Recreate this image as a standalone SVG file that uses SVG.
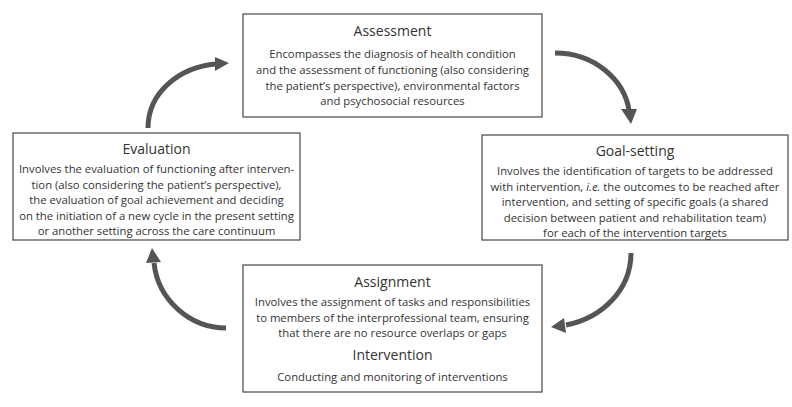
<svg xmlns="http://www.w3.org/2000/svg" width="792" height="407" viewBox="0 0 792 407">
<style>
.box{fill:#fff;stroke:#555;stroke-width:1.3}
.t{font-family:"Open Sans","Liberation Sans",sans-serif;fill:#333;text-anchor:middle}
.h{font-size:14px}
.b{font-size:11.3px}
.arc{fill:none;stroke:#555;stroke-width:5}
.head{fill:#555}
</style>
<rect width="792" height="407" fill="#fff"/>
<g id="assessment">
<rect class="box" x="243" y="14" width="299" height="103"/>
<text class="t h" x="392.5" y="36">Assessment</text>
<text class="t b" x="392.5" y="58">Encompasses the diagnosis of health condition</text>
<text class="t b" x="392.5" y="74">and the assessment of functioning (also considering</text>
<text class="t b" x="392.5" y="89.5">the patient’s perspective), environmental factors</text>
<text class="t b" x="392.5" y="105">and psychosocial resources</text>
</g>
<g id="goal-setting">
<rect class="box" x="482" y="135" width="306" height="105"/>
<text class="t h" x="635" y="156">Goal-setting</text>
<text class="t b" x="635" y="175">Involves the identification of targets to be addressed</text>
<text class="t b" x="635" y="190.5">with intervention, <tspan font-style="italic">i.e.</tspan> the outcomes to be reached after</text>
<text class="t b" x="635" y="206">intervention, and setting of specific goals (a shared</text>
<text class="t b" x="635" y="221.5">decision between patient and rehabilitation team)</text>
<text class="t b" x="635" y="237">for each of the intervention targets</text>
</g>
<g id="evaluation">
<rect class="box" x="13" y="133" width="287" height="107"/>
<text class="t h" x="156.5" y="154">Evaluation</text>
<text class="t b" x="156.5" y="173">Involves the evaluation of functioning after interven-</text>
<text class="t b" x="156.5" y="188.5">tion (also considering the patient’s perspective),</text>
<text class="t b" x="156.5" y="204">the evaluation of goal achievement and deciding</text>
<text class="t b" x="156.5" y="219.5">on the initiation of a new cycle in the present setting</text>
<text class="t b" x="156.5" y="235">or another setting across the care continuum</text>
</g>
<g id="assignment">
<rect class="box" x="243" y="265" width="299" height="127"/>
<text class="t h" x="392.5" y="287">Assignment</text>
<text class="t b" x="392.5" y="306">Involves the assignment of tasks and responsibilities</text>
<text class="t b" x="392.5" y="321.5">to members of the interprofessional team, ensuring</text>
<text class="t b" x="392.5" y="337">that there are no resource overlaps or gaps</text>
<text class="t h" x="392.5" y="360">Intervention</text>
<text class="t b" x="392.5" y="381">Conducting and monitoring of interventions</text>
</g>
<g id="connectors">
<path class="arc" d="M555,53 C595,53 624,80 629,110"/>
<polygon class="head" points="621,109 637,109 631,124"/>
<path class="arc" d="M631,253 C631,290 602,318 566,325"/>
<polygon class="head" points="564,318 566,333 551,327"/>
<path class="arc" d="M226,328 C190,328 158,300 154,263"/>
<polygon class="head" points="146,263 161,262 152,248"/>
<path class="arc" d="M148,128 C148,92 180,67 216,64"/>
<polygon class="head" points="215,57 215,71 229,63"/>
</g>
</svg>
